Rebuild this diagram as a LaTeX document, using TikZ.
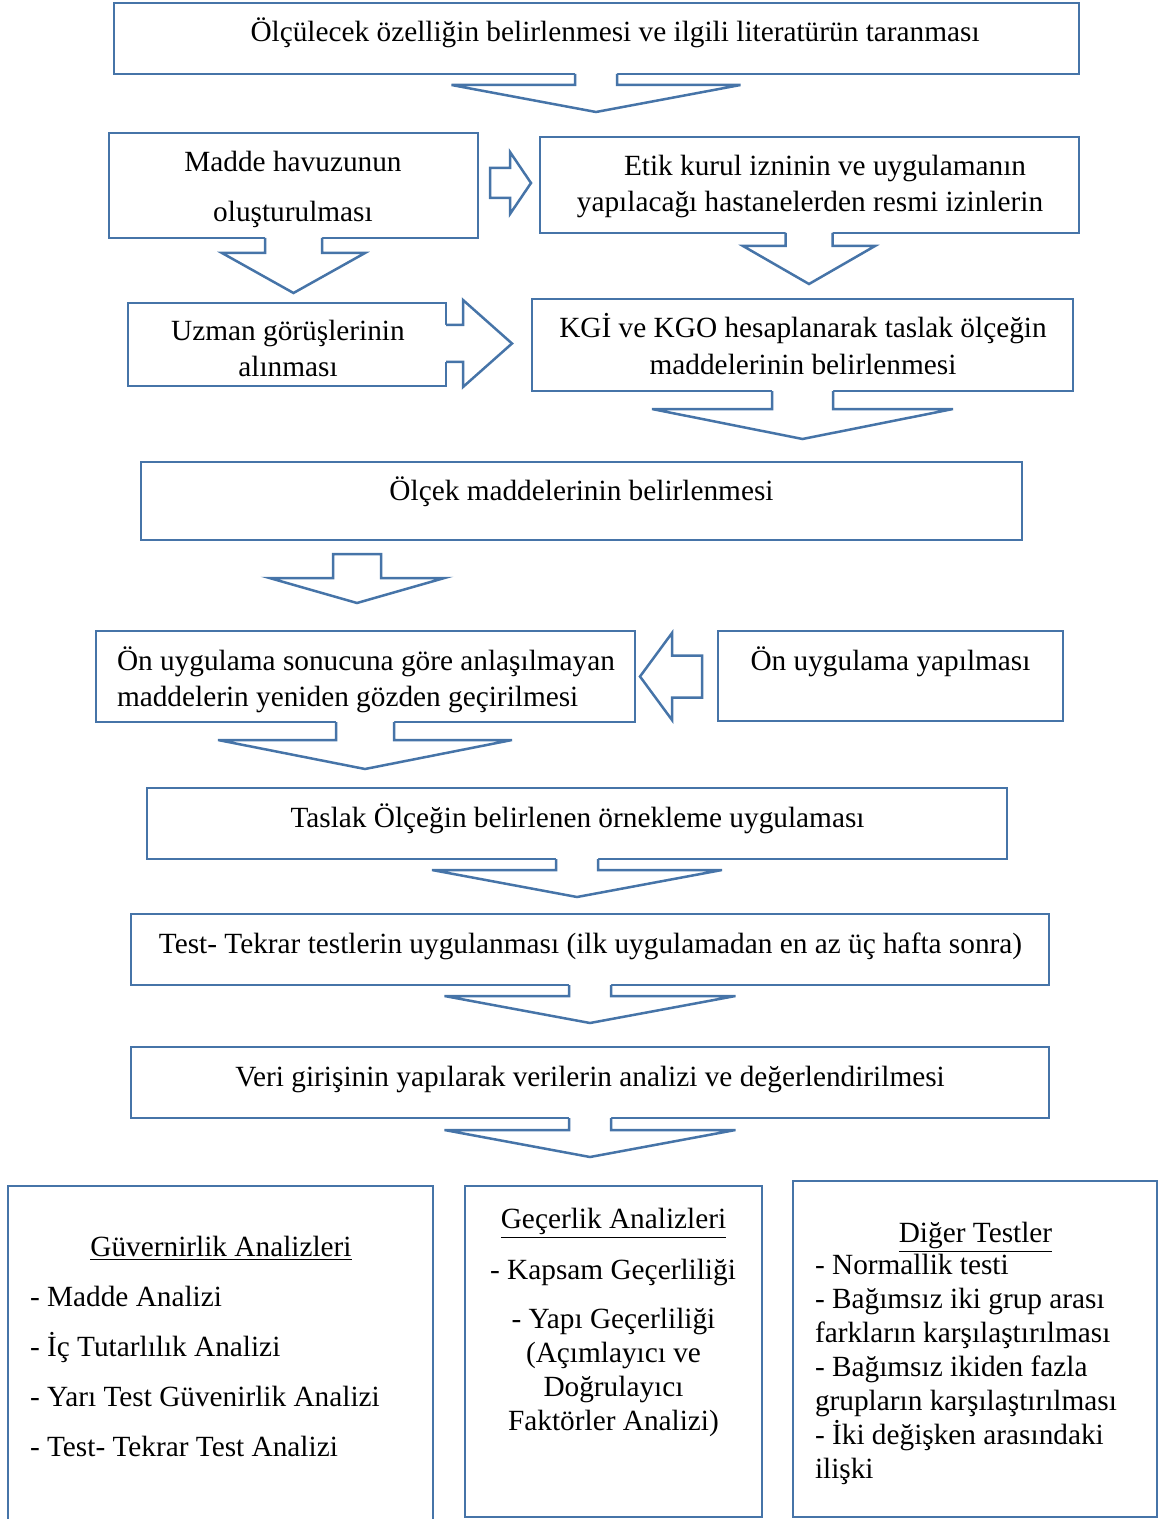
\documentclass[tikz,border=0pt]{standalone}
\usepackage{fontspec}
\setmainfont{Liberation Serif}
\usetikzlibrary{fit}
\definecolor{boxblue}{RGB}{70,116,168}

\tikzset{
  pics/openarr/.style n args={4}{code={
      \fill[white] (-#1,-3) -- (-#1,#3) -- (-#2,#3) -- (0,#3+#4) -- (#2,#3) -- (#1,#3) -- (#1,-3) -- cycle;
      \draw[arrline] (-#1,0) -- (-#1,#3) -- (-#2,#3) -- (0,#3+#4) -- (#2,#3) -- (#1,#3) -- (#1,0);
  }},
  pics/closedarr/.style n args={4}{code={
      \filldraw[arrline, fill=white] (-#1,0) -- (-#1,#3) -- (-#2,#3) -- (0,#3+#4) -- (#2,#3) -- (#1,#3) -- (#1,0) -- cycle;
  }}
}

\begin{document}
\begin{tikzpicture}[
    x=0.5pt, y=-0.5pt,
    box/.style={draw=boxblue, line width=1.25pt, inner sep=0pt, outer sep=0pt, fill=white},
    arrline/.style={draw=boxblue, line width=1.25pt, line join=miter},
    txt/.style={font=\fontsize{14.65}{17}\selectfont, inner sep=0pt, outer sep=0pt, anchor=base, align=center},
    ltxt/.style={txt, align=left, anchor=base west}
  ]
  \useasboundingbox (0,0) rectangle (1160,1519);
  \clip (0,0) rectangle (1160,1519);

  % boxes
  \node[box, fit={(114,3) (1079,74)}] (olcul) {};
  \node[box, fit={(109,133) (478,238)}] (havuz) {};
  \node[box, fit={(540,137) (1079,233)}] (etik) {};
  \node[box, fit={(128,303) (446,386)}] (uzman) {};
  \node[box, fit={(532,299) (1073,391)}] (kgi) {};
  \node[box, fit={(141,462) (1022,540)}] (olcek) {};
  \node[box, fit={(96,631) (635,722)}] (gozden) {};
  \node[box, fit={(718,631) (1063,721)}] (onuyg) {};
  \node[box, fit={(147,788) (1007,859)}] (taslak) {};
  \node[box, fit={(131,914) (1049,985)}] (tekrar) {};
  \node[box, fit={(131,1047) (1049,1118)}] (veri) {};
  \node[box, fit={(8,1186) (433,1540)}] (guven) {};
  \node[box, fit={(465,1186) (762,1517)}] (gecer) {};
  \node[box, fit={(793,1181) (1157,1517)}] (diger) {};

  % block arrows
  \pic at (596,0 |- olcul.south) {openarr={21}{144.5}{11}{27}};
  \pic[rotate=90] at (490,183) {closedarr={15}{31}{20}{21}};
  \pic at (293.5,0 |- havuz.south) {openarr={28.5}{71.5}{15}{40}};
  \pic at (809,0 |- etik.south) {openarr={23.5}{66}{13}{38}};
  \pic[rotate=90] at (uzman.east |- 0,343.5) {openarr={18.5}{43.5}{17}{49}};
  \pic at (802.5,0 |- kgi.south) {openarr={30.5}{150.5}{18}{30}};
  \pic at (357,554) {closedarr={24}{87.5}{24}{25}};
  \pic[rotate=-90] at (702,676.5) {closedarr={21}{43.5}{30}{32}};
  \pic at (365,0 |- gozden.south) {openarr={29}{147}{18}{29}};
  \pic at (577,0 |- taslak.south) {openarr={21}{145}{11}{27}};
  \pic at (590,0 |- tekrar.south) {openarr={21}{145.5}{11}{27}};
  \pic at (590,0 |- veri.south) {openarr={21}{145.5}{12}{27}};

  % texts (multi-line nodes sit on their last baseline)
  \node[txt] (olcul-t) at (615,42) {Ölçülecek özelliğin belirlenmesi ve ilgili literatürün taranması};
  \node[txt] (havuz-t) at (293,222) {Madde havuzunun\\[8pt]oluşturulması};
  \node[txt] (etik-t) at (810,212) {\hspace*{15pt}Etik kurul izninin ve uygulamanın\\[1pt]yapılacağı hastanelerden resmi izinlerin};
  \node[txt] (uzman-t) at (288,377) {Uzman görüşlerinin\\[1pt]alınması};
  \node[txt] (kgi-t) at (803,374) {KGİ ve KGO hesaplanarak taslak ölçeğin\\[1pt]maddelerinin belirlenmesi};
  \node[txt] (olcek-t) at (581.5,500) {Ölçek maddelerinin belirlenmesi};
  \node[ltxt] (gozden-t) at (117,706) {Ön uygulama sonucuna göre anlaşılmayan\\[1pt]maddelerin yeniden gözden geçirilmesi};
  \node[txt] (onuyg-t) at (890.5,670) {Ön uygulama yapılması};
  \node[txt] (taslak-t) at (577.5,827) {Taslak Ölçeğin belirlenen örnekleme uygulaması};
  \node[txt] (tekrar-t) at (590.5,953) {Test- Tekrar testlerin uygulanması (ilk uygulamadan en az üç hafta sonra)};
  \node[txt] (veri-t) at (590,1086) {Veri girişinin yapılarak verilerin analizi ve değerlendirilmesi};

  \node[txt] (guven-h) at (221,1256) {\underline{Güvernirlik Analizleri}};
  \node[ltxt] (guven-t) at (30,1456) {- Madde Analizi\\[8pt]- İç Tutarlılık Analizi\\[8pt]- Yarı Test Güvenirlik Analizi\\[8pt]- Test- Tekrar Test Analizi};

  \node[txt] (gecer-h) at (613.5,1228) {\underline{Geçerlik Analizleri}};
  \node[txt] (gecer-k) at (613,1279) {- Kapsam Geçerliliği};
  \node[txt] (gecer-t) at (613.5,1430) {- Yapı Geçerliliği\\(Açımlayıcı ve\\Doğrulayıcı\\Faktörler Analizi)};

  \node[txt] (diger-h) at (975.5,1242) {\underline{Diğer Testler}};
  \node[ltxt] (diger-t) at (815,1478) {- Normallik testi\\- Bağımsız iki grup arası\\farkların karşılaştırılması\\- Bağımsız ikiden fazla\\grupların karşılaştırılması\\- İki değişken arasındaki\\ilişki};
\end{tikzpicture}
\end{document}
